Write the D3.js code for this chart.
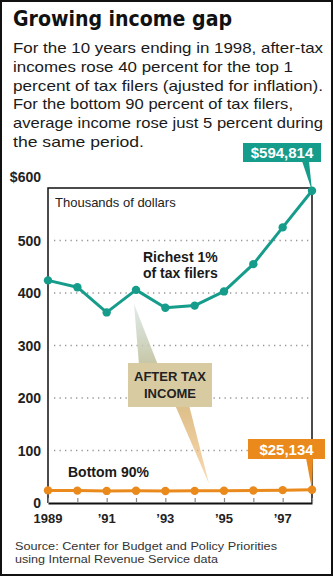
<!DOCTYPE html>
<html>
<head>
<meta charset="utf-8">
<script src="https://cdn.jsdelivr.net/npm/d3@7/dist/d3.min.js"></script>
<style>
  html, body { margin: 0; padding: 0; background: #fff; }
  svg { display: block; }
</style>
</head>
<body>
<svg id="chart" width="333" height="576"></svg>
<script>
// After-tax income, thousands of dollars (inflation adjusted)
const years = [1989, 1990, 1991, 1992, 1993, 1994, 1995, 1996, 1997, 1998];
const richest1 = [424, 411, 363, 406, 372, 376, 403, 455, 525, 594.814];
const bottom90 = [24.0, 23.6, 23.0, 23.2, 22.9, 23.1, 23.4, 23.8, 24.5, 25.134];
const yTicks = [0, 100, 200, 300, 400, 500, 600];
const xTickYears = [1989, 1991, 1993, 1995, 1997];
const xTickLabel = y => y === 1989 ? "1989" : "\u2019" + String(y).slice(2);

const title = "Growing income gap";
const intro = [
  "For the 10 years ending in 1998, after-tax",
  "incomes rose 40 percent for the top 1",
  "percent of tax filers (ajusted for inflation).",
  "For the bottom 90 percent of tax filers,",
  "average income rose just 5 percent during",
  "the same period."
];
const introWidths = [310, 280, 310, 280, 310, 131];
const source = [
  "Source: Center for Budget and Policy Priorities",
  "using Internal Revenue Service data"
];
const sourceWidths = [262, 203];

const teal = "#169c8b";
const orange = "#ea8a1c";
const tan = "#d9cba1";
const sans = "'Liberation Sans', Arial, sans-serif";

const svg = d3.select("#chart");
const defs = svg.append("defs");

// Outer frame
svg.append("rect").attr("x", 1).attr("y", 1).attr("width", 331).attr("height", 574)
  .attr("fill", "#fff").attr("stroke", "#111").attr("stroke-width", 2);

// Title and intro copy
svg.append("text").attr("x", 13).attr("y", 26)
  .attr("font-family", "'DejaVu Sans Condensed', 'DejaVu Sans', sans-serif")
  .attr("font-weight", "bold").attr("font-size", 22).attr("fill", "#111")
  .attr("textLength", 219).attr("lengthAdjust", "spacingAndGlyphs")
  .text(title);

svg.append("g").selectAll("text").data(intro).join("text")
  .attr("x", 13).attr("y", (d, i) => 53 + i * 18.8)
  .attr("font-family", sans).attr("font-size", 15).attr("fill", "#1a1a1a")
  .attr("textLength", (d, i) => introWidths[i]).attr("lengthAdjust", "spacingAndGlyphs")
  .text(d => d);

// Scales
const x = d3.scaleLinear().domain([1989, 1998]).range([48, 312]);
const y = d3.scaleLinear().domain([0, 600]).range([503, 188]);

// Dotted gridlines
svg.append("g").selectAll("line").data(yTicks.filter(v => v > 0 && v < 600)).join("line")
  .attr("x1", x(1989) + 6).attr("x2", x(1998) - 3)
  .attr("y1", d => y(d)).attr("y2", d => y(d))
  .attr("stroke", "#9a9494").attr("stroke-width", 1.3)
  .attr("stroke-dasharray", "1.3 4.2");

// Plot frame
svg.append("path")
  .attr("d", `M${x(1989)},${y(0)}V${y(600)}H${x(1998)}V${y(0)}`)
  .attr("fill", "none").attr("stroke", "#111").attr("stroke-width", 1.5);

// Y-axis labels
svg.append("g").selectAll("text").data(yTicks).join("text")
  .attr("x", 41).attr("y", d => d === 600 ? 182 : y(d) + 5)
  .attr("text-anchor", "end")
  .attr("font-family", sans).attr("font-weight", "bold").attr("font-size", 14)
  .attr("fill", "#222")
  .text(d => d === 600 ? "$600" : d);

// X axis
const xAxis = d3.axisBottom(x).tickValues(years).tickSize(0).tickFormat("");
const gx = svg.append("g").attr("transform", `translate(0,${y(0)})`).call(xAxis);
gx.select(".domain").attr("stroke", "#111").attr("stroke-width", 1.8);
gx.selectAll(".tick").append("line")
  .attr("y1", -5).attr("y2", 0).attr("stroke", "#888").attr("stroke-width", 1.2);

svg.append("g").selectAll("text").data(xTickYears).join("text")
  .attr("x", d => x(d)).attr("y", 523)
  .attr("text-anchor", "middle")
  .attr("font-family", sans).attr("font-weight", "bold").attr("font-size", 13)
  .attr("fill", "#222")
  .text(xTickLabel);

svg.append("text").attr("x", 55).attr("y", 207)
  .attr("font-family", sans).attr("font-size", 13).attr("fill", "#222")
  .text("Thousands of dollars");

// "After tax income" pointer wedges
const gUp = defs.append("linearGradient").attr("id", "wedgeUp")
  .attr("x1", 0).attr("y1", 0).attr("x2", 0).attr("y2", 1);
gUp.append("stop").attr("offset", 0).attr("stop-color", "#c3d6ce").attr("stop-opacity", 0.5);
gUp.append("stop").attr("offset", 1).attr("stop-color", "#c7c6a4");
const gDown = defs.append("linearGradient").attr("id", "wedgeDown")
  .attr("x1", 0).attr("y1", 0).attr("x2", 0).attr("y2", 1);
gDown.append("stop").attr("offset", 0).attr("stop-color", "#dcbf8a");
gDown.append("stop").attr("offset", 1).attr("stop-color", "#f0b56a").attr("stop-opacity", 0.5);

svg.append("path")
  .attr("d", `M${x(1992) - 2},${y(406) + 14} L${x(1992) + 22},365 L${x(1992) + 3},365 Z`)
  .attr("fill", "url(#wedgeUp)");
svg.append("path")
  .attr("d", `M175,405 L189,405 L${x(1995) - 15},${y(23.4) - 7} Z`)
  .attr("fill", "url(#wedgeDown)");

svg.append("rect").attr("x", 128).attr("y", 363).attr("width", 84).attr("height", 44)
  .attr("fill", tan);
svg.append("g").selectAll("text").data(["AFTER TAX", "INCOME"]).join("text")
  .attr("x", 170).attr("y", (d, i) => 381 + i * 17)
  .attr("text-anchor", "middle")
  .attr("font-family", sans).attr("font-weight", "bold").attr("font-size", 13)
  .attr("fill", "#222")
  .text(d => d);

// Series lines and dots
const line = d3.line().x((d, i) => x(years[i])).y(d => y(d));
function drawSeries(values, color) {
  svg.append("path").datum(values).attr("d", line)
    .attr("fill", "none").attr("stroke", color).attr("stroke-width", 3)
    .attr("stroke-linejoin", "round");
  svg.append("g").selectAll("circle").data(values).join("circle")
    .attr("cx", (d, i) => x(years[i])).attr("cy", d => y(d)).attr("r", 4.2)
    .attr("fill", color);
}
drawSeries(bottom90, orange);
drawSeries(richest1, teal);

// Series labels
svg.append("g").selectAll("text").data(["Richest 1%", "of tax filers"]).join("text")
  .attr("x", 143).attr("y", (d, i) => 262 + i * 16)
  .attr("font-family", sans).attr("font-weight", "bold").attr("font-size", 14)
  .attr("fill", "#1a1a1a")
  .text(d => d);
svg.append("text").attr("x", 68).attr("y", 477)
  .attr("font-family", sans).attr("font-weight", "bold").attr("font-size", 14)
  .attr("fill", "#1a1a1a")
  .text("Bottom 90%");

// End-value callouts
function callout(value, color, bx, by, bw, bh, text) {
  const tx = x(years[years.length - 1]), ty = y(value);
  svg.append("path")
    .attr("d", `M${bx + bw - 19},${by + bh - 1} L${bx + bw - 12},${by + bh - 1} L${tx},${ty} Z`)
    .attr("fill", color);
  svg.append("rect").attr("x", bx).attr("y", by).attr("width", bw).attr("height", bh)
    .attr("fill", color);
  svg.append("text").attr("x", bx + bw / 2).attr("y", by + bh / 2 + 5.5)
    .attr("text-anchor", "middle")
    .attr("font-family", sans).attr("font-weight", "bold").attr("font-size", 15)
    .attr("fill", "#fff")
    .text(text);
}
callout(richest1[richest1.length - 1], teal, 243, 143, 78, 19, "$594,814");
callout(bottom90[bottom90.length - 1], orange, 248, 439, 77, 20, "$25,134");

// Source line
svg.append("g").selectAll("text").data(source).join("text")
  .attr("x", 15).attr("y", (d, i) => 550 + i * 13)
  .attr("font-family", sans).attr("font-size", 11.5).attr("fill", "#333")
  .attr("textLength", (d, i) => sourceWidths[i]).attr("lengthAdjust", "spacingAndGlyphs")
  .text(d => d);
</script>
</body>
</html>
